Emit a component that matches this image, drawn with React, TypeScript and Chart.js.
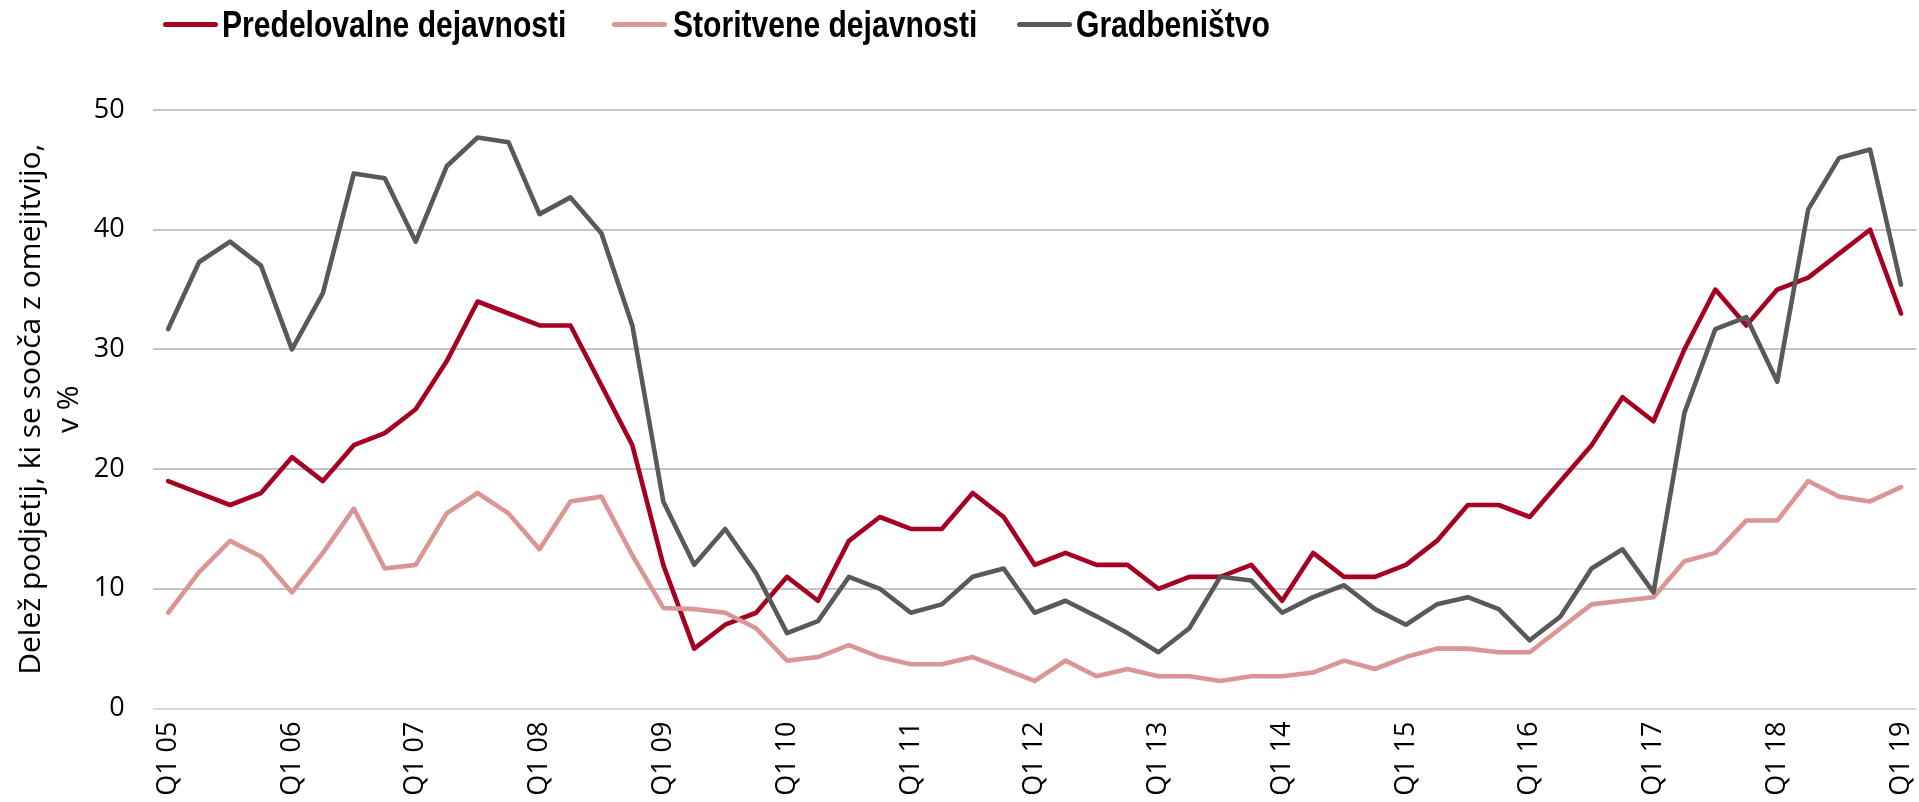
import React, { useEffect, useRef } from "react";
import { Chart, registerables } from "chart.js";

Chart.register(...registerables);

const categories = [
  "Q1 05", "Q2 05", "Q3 05", "Q4 05",
  "Q1 06", "Q2 06", "Q3 06", "Q4 06",
  "Q1 07", "Q2 07", "Q3 07", "Q4 07",
  "Q1 08", "Q2 08", "Q3 08", "Q4 08",
  "Q1 09", "Q2 09", "Q3 09", "Q4 09",
  "Q1 10", "Q2 10", "Q3 10", "Q4 10",
  "Q1 11", "Q2 11", "Q3 11", "Q4 11",
  "Q1 12", "Q2 12", "Q3 12", "Q4 12",
  "Q1 13", "Q2 13", "Q3 13", "Q4 13",
  "Q1 14", "Q2 14", "Q3 14", "Q4 14",
  "Q1 15", "Q2 15", "Q3 15", "Q4 15",
  "Q1 16", "Q2 16", "Q3 16", "Q4 16",
  "Q1 17", "Q2 17", "Q3 17", "Q4 17",
  "Q1 18", "Q2 18", "Q3 18", "Q4 18",
  "Q1 19",
];

const seriesNames = ["Predelovalne dejavnosti", "Storitvene dejavnosti", "Gradbeništvo"];

const manufacturing = [
  19, 18, 17, 18,
  21, 19, 22, 23,
  25, 29, 34, 33,
  32, 32, 27, 22,
  12, 5, 7, 8,
  11, 9, 14, 16,
  15, 15, 18, 16,
  12, 13, 12, 12,
  10, 11, 11, 12,
  9, 13, 11, 11,
  12, 14, 17, 17,
  16, 19, 22, 26,
  24, 30, 35, 32,
  35, 36, 38, 40,
  33,
];

const services = [
  8, 11.4, 14, 12.7,
  9.7, 13, 16.7, 11.7,
  12, 16.3, 18, 16.3,
  13.3, 17.3, 17.7, 12.8,
  8.4, 8.3, 8, 6.7,
  4, 4.3, 5.3, 4.3,
  3.7, 3.7, 4.3, 3.3,
  2.3, 4, 2.7, 3.3,
  2.7, 2.7, 2.3, 2.7,
  2.7, 3, 4, 3.3,
  4.3, 5, 5, 4.7,
  4.7, 6.7, 8.7, 9,
  9.3, 12.3, 13, 15.7,
  15.7, 19, 17.7, 17.3,
  18.5,
];

const construction = [
  31.7, 37.3, 39, 37,
  30, 34.7, 44.7, 44.3,
  39, 45.3, 47.7, 47.3,
  41.3, 42.7, 39.7, 32,
  17.3, 12, 15, 11.3,
  6.3, 7.3, 11, 10,
  8, 8.7, 11, 11.7,
  8, 9, 7.7, 6.3,
  4.7, 6.7, 11, 10.7,
  8, 9.3, 10.3, 8.3,
  7, 8.7, 9.3, 8.3,
  5.7, 7.7, 11.7, 13.3,
  9.7, 24.7, 31.7, 32.7,
  27.3, 41.7, 46, 46.7,
  35.4,
];

const yTicks = [0, 10, 20, 30, 40, 50];
const yTitle = ["Delež podjetij, ki se sooča z omejitvijo,", "v %"];

const colors = ["#A50021", "#DA9694", "#595959"];

const W = 1919;
const H = 802;

export default function App() {
  const canvasRef = useRef<HTMLCanvasElement | null>(null);

  useEffect(() => {
    document.body.style.margin = "0";
    document.body.style.overflow = "hidden";
    const canvas = canvasRef.current;
    if (!canvas) return;
    const seriesData = [manufacturing, services, construction];
    const chart = new Chart(canvas, {
      type: "line",
      data: {
        labels: categories,
        datasets: seriesNames.map((name, i) => ({
          label: name,
          data: seriesData[i],
          borderColor: colors[i],
          backgroundColor: colors[i],
          borderWidth: 4.6,
          pointRadius: 0,
          pointHoverRadius: 0,
          tension: 0,
          fill: false,
          borderJoinStyle: "round" as const,
          borderCapStyle: "round" as const,
          order: 3 - i,
        })),
      },
      options: {
        responsive: false,
        animation: false,
        events: [],
        layout: { padding: { top: 110, right: 2.5, bottom: 0, left: 0 } },
        plugins: {
          legend: { display: false },
          tooltip: { enabled: false },
        },
        scales: {
          x: {
            type: "category",
            offset: true,
            grid: { display: false, drawTicks: false },
            border: { display: false },
            ticks: {
              autoSkip: false,
              maxRotation: 90,
              minRotation: 90,
              padding: 13,
              color: "#000",
              font: { family: "'Open Sans', sans-serif", size: 27 },
              callback: (_v: any, idx: number) =>
                categories[idx].startsWith("Q1") ? categories[idx] : "",
            },
            afterFit: (scale: any) => {
              scale.height = H - 708.5;
              scale.paddingLeft = 0;
              scale.paddingRight = 0;
            },
          },
          y: {
            min: 0,
            max: 50,
            afterBuildTicks: (scale: any) => {
              scale.ticks = yTicks.map((v) => ({ value: v }));
            },
            grid: {
              drawTicks: false,
              color: (ctx: any) => (ctx.tick && ctx.tick.value === 0 ? "#d9d9d9" : "#c4c4c4"),
              lineWidth: 2,
            },
            border: { display: false },
            ticks: {
              padding: 28,
              color: "#000",
              font: { family: "'Open Sans', sans-serif", size: 27 },
            },
            title: {
              display: true,
              text: yTitle,
              color: "#000",
              font: { family: "'Open Sans', sans-serif", size: 30, lineHeight: 1.27 },
              padding: { top: 12, bottom: 4 },
            },
            afterFit: (scale: any) => {
              scale.width = 152.7;
              scale.paddingTop = 0;
              scale.paddingBottom = 0;
            },
          },
        },
      },
    });
    return () => chart.destroy();
  }, []);

  const legendItems = [
    { swatch: 163, text: 222 },
    { swatch: 612, text: 673 },
    { swatch: 1017, text: 1076 },
  ];

  return (
    <div style={{ position: "relative", width: W, height: H, background: "#fff" }}>
      <canvas ref={canvasRef} width={W} height={H} style={{ display: "block" }} />
      {legendItems.map((it, i) => (
        <React.Fragment key={i}>
          <div
            style={{
              position: "absolute",
              left: it.swatch,
              top: 21.5,
              width: 55,
              height: 5,
              borderRadius: 2.5,
              background: colors[i],
            }}
          />
          <div
            style={{
              position: "absolute",
              left: it.text,
              top: 7,
              fontFamily: "'Liberation Sans', Arial, sans-serif",
              fontWeight: 700,
              fontSize: 36.7,
              lineHeight: 1,
              color: "#000",
              whiteSpace: "nowrap",
              transform: "scaleX(0.82)",
              transformOrigin: "left top",
            }}
          >
            {seriesNames[i]}
          </div>
        </React.Fragment>
      ))}
    </div>
  );
}
